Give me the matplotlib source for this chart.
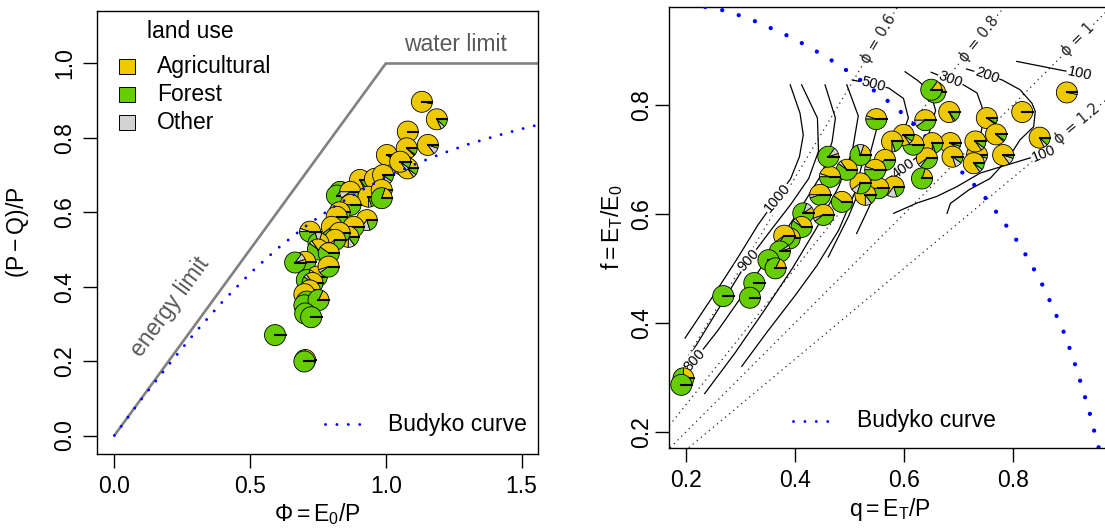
import math
import matplotlib
matplotlib.use("Agg")
import matplotlib.pyplot as plt
import matplotlib.transforms as mtransforms
from matplotlib.patches import Wedge, Rectangle
from matplotlib.lines import Line2D

plt.rcParams['font.family'] = ['Liberation Sans', 'DejaVu Sans']
plt.rcParams['mathtext.fontset'] = 'custom'
plt.rcParams['mathtext.rm'] = 'Liberation Sans'
plt.rcParams['mathtext.it'] = 'Liberation Sans:italic'
plt.rcParams['mathtext.sf'] = 'Liberation Sans'
plt.rcParams['mathtext.bf'] = 'Liberation Sans:bold'

# catchments: aridity index, runoff ratio complement, evaporative index, evaporative fraction
phi = [1.133, 1.081, 1.188, 1.004, 1.077, 1.155, 1.064, 1.080, 1.053, 0.905,
       0.832, 0.820, 0.869, 0.721, 0.960, 0.990, 0.936, 0.985, 0.985, 0.870,
       0.830, 0.819, 0.801, 0.930, 0.881, 0.862, 0.830, 0.813, 0.752, 0.750,
       0.703, 0.666, 0.790, 0.746, 0.789, 0.709, 0.730, 0.720, 0.700, 0.709,
       0.700, 0.752, 0.703, 0.725, 0.592, 0.703, 0.700]
wb = [0.897, 0.817, 0.850, 0.754, 0.772, 0.781, 0.727, 0.718, 0.736, 0.687,
      0.655, 0.645, 0.655, 0.548, 0.690, 0.700, 0.642, 0.660, 0.638, 0.620,
      0.600, 0.588, 0.561, 0.579, 0.561, 0.534, 0.545, 0.526, 0.517, 0.500,
      0.467, 0.465, 0.490, 0.427, 0.454, 0.418, 0.410, 0.390, 0.380, 0.360,
      0.350, 0.364, 0.328, 0.318, 0.270, 0.203, 0.199]
q = [0.899, 0.817, 0.849, 0.752, 0.769, 0.782, 0.734, 0.728, 0.731, 0.683,
     0.657, 0.650, 0.639, 0.549, 0.685, 0.689, 0.652, 0.642, 0.633, 0.617,
     0.599, 0.578, 0.565, 0.581, 0.553, 0.529, 0.547, 0.520, 0.520, 0.495,
     0.464, 0.461, 0.486, 0.446, 0.452, 0.415, 0.412, 0.390, 0.380, 0.372,
     0.351, 0.364, 0.325, 0.317, 0.268, 0.195, 0.191]
f = [0.823, 0.787, 0.740, 0.776, 0.746, 0.708, 0.708, 0.693, 0.733, 0.787,
     0.823, 0.828, 0.772, 0.774, 0.730, 0.705, 0.730, 0.702, 0.665, 0.727,
     0.745, 0.733, 0.699, 0.650, 0.647, 0.635, 0.681, 0.656, 0.708, 0.681,
     0.668, 0.705, 0.622, 0.635, 0.598, 0.601, 0.576, 0.555, 0.560, 0.531,
     0.515, 0.500, 0.473, 0.446, 0.449, 0.298, 0.286]
agri = [0.97, 1.00, 0.82, 0.90, 0.88, 0.85, 0.85, 0.85, 0.85, 0.82,
        0.17, 0.15, 0.50, 0.45, 0.90, 0.80, 0.75, 0.60, 0.20, 0.50,
        0.85, 0.75, 0.60, 0.65, 0.50, 0.75, 0.45, 0.60, 0.20, 0.35,
        0.45, 0.05, 0.40, 0.50, 0.55, 0.10, 0.35, 0.55, 0.60, 0.05,
        0.00, 0.18, 0.00, 0.00, 0.00, 0.25, 0.00]
other = [0.03, 0.00, 0.06, 0.02, 0.02, 0.10, 0.10, 0.05, 0.05, 0.03,
         0.02, 0.00, 0.10, 0.05, 0.05, 0.10, 0.05, 0.05, 0.00, 0.00,
         0.05, 0.05, 0.00, 0.15, 0.00, 0.10, 0.05, 0.10, 0.10, 0.05,
         0.05, 0.10, 0.00, 0.05, 0.05, 0.10, 0.05, 0.05, 0.05, 0.05,
         0.00, 0.00, 0.00, 0.00, 0.00, 0.00, 0.00]
forest = [0.00, 0.00, 0.12, 0.08, 0.10, 0.05, 0.05, 0.10, 0.10, 0.15,
          0.81, 0.85, 0.40, 0.50, 0.05, 0.10, 0.20, 0.35, 0.80, 0.50,
          0.10, 0.20, 0.40, 0.20, 0.50, 0.15, 0.50, 0.30, 0.70, 0.60,
          0.50, 0.85, 0.60, 0.45, 0.40, 0.80, 0.60, 0.40, 0.35, 0.90,
          1.00, 0.82, 1.00, 1.00, 1.00, 0.75, 1.00]

land_use = ["Agricultural", "Forest", "Other"]
land_colors = {"Agricultural": "#EEC900", "Forest": "#66CD00", "Other": "#D3D3D3"}

# theoretical limits and Budyko curve (left panel)
limit_phi = [0.0, 1.0, 2.0]
limit_wb = [0.0, 1.0, 1.0]
budyko_phi = [0.0, 0.1, 0.2, 0.3, 0.4, 0.5, 0.6, 0.7, 0.8, 0.9, 1.0, 1.1, 1.2,
              1.3, 1.4, 1.5, 1.56]
budyko_wb = [0.0, 0.098, 0.190, 0.279, 0.361, 0.436, 0.502, 0.560, 0.611, 0.655,
             0.694, 0.727, 0.756, 0.782, 0.804, 0.824, 0.835]

# Budyko curve in q-f space (right panel)
budyko_q = [0.235, 0.272, 0.302, 0.331, 0.360, 0.391, 0.419, 0.447, 0.475, 0.501,
            0.528, 0.553, 0.580, 0.604, 0.630, 0.660, 0.690, 0.718, 0.740, 0.761,
            0.780, 0.799, 0.817, 0.833, 0.849, 0.863, 0.876, 0.890, 0.901, 0.912,
            0.922, 0.931, 0.940, 0.948, 0.956, 0.959]
budyko_f = [0.980, 0.973, 0.963, 0.952, 0.939, 0.925, 0.910, 0.894, 0.877, 0.859,
            0.840, 0.820, 0.800, 0.778, 0.752, 0.721, 0.693, 0.665, 0.641, 0.615,
            0.589, 0.563, 0.536, 0.508, 0.480, 0.451, 0.421, 0.392, 0.362, 0.330,
            0.298, 0.268, 0.238, 0.206, 0.176, 0.165]

# iso-aridity lines
phi_levels = [0.6, 0.8, 1.0, 1.2]
phi_label_q = [0.553, 0.737, 0.920, 0.9175]
phi_label_txt = ["0.6", "0.8", "1", "1.2"]

# contour lines (q, f)
iso_lines = [
    [(0.198, 0.372), (0.250, 0.450), (0.292, 0.515), (0.332, 0.580), (0.367, 0.629),
     (0.392, 0.665), (0.408, 0.705), (0.415, 0.745), (0.409, 0.785), (0.391, 0.837)],
    [(0.210, 0.345), (0.262, 0.430), (0.314, 0.515), (0.357, 0.572), (0.391, 0.616),
     (0.425, 0.665), (0.443, 0.715), (0.441, 0.776), (0.412, 0.837)],
    [(0.200, 0.308), (0.216, 0.332), (0.259, 0.387), (0.310, 0.460), (0.360, 0.535),
     (0.410, 0.610), (0.450, 0.675), (0.468, 0.733), (0.474, 0.776), (0.455, 0.837)],
    [(0.234, 0.270), (0.290, 0.345), (0.345, 0.425), (0.395, 0.500), (0.440, 0.575),
     (0.480, 0.650), (0.505, 0.715), (0.516, 0.780), (0.495, 0.837)],
    [(0.302, 0.320), (0.350, 0.385), (0.400, 0.450), (0.440, 0.505), (0.480, 0.570),
     (0.510, 0.640), (0.525, 0.700)],
    [(0.461, 0.521), (0.498, 0.595), (0.525, 0.660), (0.541, 0.723), (0.550, 0.757)],
    [(0.505, 0.846), (0.543, 0.838), (0.572, 0.831), (0.599, 0.812), (0.608, 0.776),
     (0.599, 0.751), (0.585, 0.725)],
    [(0.513, 0.564), (0.530, 0.600), (0.546, 0.635), (0.575, 0.668), (0.599, 0.683),
     (0.624, 0.705), (0.645, 0.745), (0.658, 0.790), (0.648, 0.825), (0.625, 0.845),
     (0.602, 0.861)],
    [(0.650, 0.860), (0.685, 0.846), (0.709, 0.837), (0.734, 0.822), (0.743, 0.797),
     (0.745, 0.770), (0.740, 0.740)],
    [(0.679, 0.601), (0.685, 0.619), (0.719, 0.644), (0.758, 0.665), (0.790, 0.700),
     (0.813, 0.736), (0.838, 0.760), (0.841, 0.788), (0.835, 0.803), (0.813, 0.828),
     (0.780, 0.846), (0.752, 0.855), (0.715, 0.866)],
    [(0.581, 0.601), (0.624, 0.620), (0.660, 0.632), (0.697, 0.650), (0.740, 0.675),
     (0.829, 0.702), (0.856, 0.710)],
    [(0.807, 0.880), (0.893, 0.863), (0.922, 0.858)],
]
iso_labels = [("1000", 0.367, 0.629, 50), ("900", 0.314, 0.515, 48), ("800", 0.216, 0.332, 48),
              ("500", 0.543, 0.838, -15), ("400", 0.599, 0.683, 35), ("300", 0.685, 0.846, -20),
              ("200", 0.752, 0.855, -20), ("100", 0.856, 0.710, 22), ("100", 0.922, 0.858, -12)]

FS = 16.5
fig = plt.figure(figsize=(11.05, 5.3), dpi=100)
ax1 = fig.add_axes([0.0881, 0.1428, 0.3986, 0.8364])
ax2 = fig.add_axes([0.6057, 0.1553, 0.3997, 0.8321])
ax1.set_xlim(-0.0626, 1.560)
ax1.set_ylim(-0.0505, 1.141)
ax2.set_xlim(0.169, 0.980)
ax2.set_ylim(0.1706, 0.9805)

R_PIE = 0.105  # inches


def draw_pie(ax, x, y, shares):
    trans = fig.dpi_scale_trans + mtransforms.ScaledTranslation(x, y, ax.transData)
    tot = sum(shares)
    start = 0.0
    for share, name in zip(shares, ["Agricultural", "Other", "Forest"]):
        if share <= 0:
            continue
        stop = start + 360.0 * share / tot
        ax.add_patch(Wedge((0, 0), R_PIE, start, stop, facecolor=land_colors[name],
                           edgecolor="black", lw=0.6, transform=trans, zorder=4))
        start = stop
    ax.add_line(Line2D([0, R_PIE], [0, 0], color="black", lw=1.5,
                       transform=trans, zorder=4))


# ---- left panel
ax1.plot(limit_phi, limit_wb, color="#808080", lw=1.9, zorder=2, solid_capstyle="butt")
for i in range(len(phi)):
    draw_pie(ax1, phi[i], wb[i], (agri[i], other[i], forest[i]))
ax1.plot(budyko_phi, budyko_wb, color="blue", lw=2.1, linestyle=(0, (0.01, 3.9)),
         dash_capstyle="round", zorder=6)
ax1.text(0.205, 0.345, "energy limit", rotation=53.9, ha="center", va="center",
         color="#595959", fontsize=FS)
ax1.text(1.255, 1.05, "water limit", ha="center", va="center", color="#595959", fontsize=FS)

# land use legend
ax1.text(0.112, 0.953, "land use", transform=ax1.transAxes, ha="left", va="center", fontsize=FS)
for k, name in enumerate(land_use):
    yy = 0.8744 - k * 0.0632
    ax1.add_patch(Rectangle((0.0668 - 0.018, yy - 0.017), 0.036, 0.034, transform=ax1.transAxes,
                            facecolor=land_colors[name], edgecolor="black", lw=0.7))
    ax1.text(0.1349, yy, name, transform=ax1.transAxes, ha="left", va="center", fontsize=FS)

ax1.plot([0.517, 0.599], [0.0677, 0.0677], transform=ax1.transAxes, color="blue", lw=2.1,
         linestyle=(0, (0.01, 3.9)), dash_capstyle="round")
ax1.text(0.659, 0.0677, "Budyko curve", transform=ax1.transAxes, ha="left", va="center",
         fontsize=FS)

ax1.set_xticks([0.0, 0.5, 1.0, 1.5], labels=["0.0", "0.5", "1.0", "1.5"])
ax1.set_yticks([0.0, 0.2, 0.4, 0.6, 0.8, 1.0], labels=["0.0", "0.2", "0.4", "0.6", "0.8", "1.0"])
ax1.set_xlabel(r"$\Phi = \mathrm{E_0/P}$", fontsize=FS, labelpad=2)
ax1.set_ylabel(r"$\mathrm{(P - Q)/P}$", fontsize=FS, labelpad=16)

# ---- right panel
for p in phi_levels:
    ax2.axline((0, 0), slope=1.0 / p, color="#222222", lw=0.9, linestyle=(0, (1, 3.2)), zorder=1.5)


def screen_angle(ax, slope):
    p0 = ax.transData.transform((0.5, 0.5))
    p1 = ax.transData.transform((0.6, 0.5 + 0.1 * slope))
    return math.degrees(math.atan2(p1[1] - p0[1], p1[0] - p0[0]))


for p, lq, txt in zip(phi_levels, phi_label_q, phi_label_txt):
    ax2.text(lq, lq / p, "\u03d5 = " + txt, rotation=screen_angle(ax2, 1.0 / p), ha="center",
             va="center", fontsize=10.5, color="#222222", zorder=2.6,
             family=["DejaVu Sans"],
             bbox=dict(boxstyle="square,pad=0.05", facecolor="white", edgecolor="none"))

for line in iso_lines:
    ax2.plot([pt[0] for pt in line], [pt[1] for pt in line], color="black", lw=0.9, zorder=2)
for txt, lq, lf, rot in iso_labels:
    ax2.text(lq, lf, txt, rotation=rot, ha="center", va="center", fontsize=10.5, zorder=2.5,
             bbox=dict(boxstyle="square,pad=0.05", facecolor="white", edgecolor="none"))

ax2.plot(budyko_q, budyko_f, color="blue", lw=3.1, linestyle=(0, (0.01, 4.0)),
         dash_capstyle="round", zorder=3)

for i in range(len(q)):
    draw_pie(ax2, q[i], f[i], (agri[i], other[i], forest[i]))

ax2.plot([0.2807, 0.3622], [0.0612, 0.0612], transform=ax2.transAxes, color="blue", lw=2.1,
         linestyle=(0, (0.01, 3.9)), dash_capstyle="round")
ax2.text(0.4243, 0.0612, "Budyko curve", transform=ax2.transAxes, ha="left", va="center",
         fontsize=FS)

ax2.set_xticks([0.2, 0.4, 0.6, 0.8], labels=["0.2", "0.4", "0.6", "0.8"])
ax2.set_yticks([0.2, 0.4, 0.6, 0.8], labels=["0.2", "0.4", "0.6", "0.8"])
ax2.set_xlabel(r"$\mathrm{q = E_T/P}$", fontsize=FS, labelpad=3)
ax2.set_ylabel(r"$\mathrm{f = E_T/E_0}$", fontsize=FS, labelpad=3)

for ax in (ax1, ax2):
    ax.tick_params(direction="out", length=10, width=1, pad=5, labelsize=FS)
    ax.tick_params(axis="y", labelrotation=90)
    for lab in ax.get_yticklabels():
        lab.set_va("center")
    for s in ax.spines.values():
        s.set_linewidth(1)
ax2.tick_params(axis="y", pad=2)

fig.savefig("out.png", dpi=100)
